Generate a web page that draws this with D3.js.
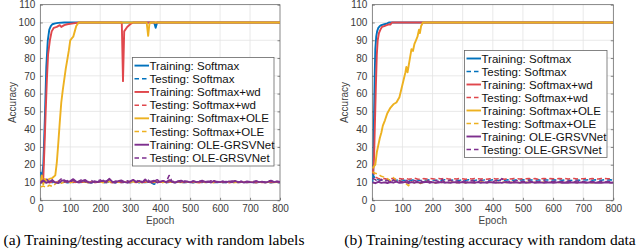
<!DOCTYPE html>
<html>
<head>
<meta charset="utf-8">
<script src="https://cdn.jsdelivr.net/npm/d3@7"></script>
<style>
  html, body { margin: 0; padding: 0; background: #fff; }
  svg { display: block; }
</style>
</head>
<body>
<svg id="fig" width="640" height="249"></svg>
<script>
// ─── Data ───
const xTicks = [0, 100, 200, 300, 400, 500, 600, 700, 800];
const yTicks = [0, 10, 20, 30, 40, 50, 60, 70, 80, 90, 100, 110];

const seriesNames = [
  "Training: Softmax", "Testing: Softmax",
  "Training: Softmax+wd", "Testing: Softmax+wd",
  "Training: Softmax+OLE", "Testing: Softmax+OLE",
  "Training: OLE-GRSVNet", "Testing: OLE-GRSVNet",
];
const seriesColors = ["#0072BD", "#0072BD", "#E0474C", "#E0474C", "#EDB120", "#EDB120", "#7E2F8E", "#7E2F8E"];
const seriesDashed = [false, true, false, true, false, true, false, true];

// noisy curves are sampled every 10 epochs (0..800)
const noiseEpochs = d3.range(0, 801, 10);

// (a) random labels
const aTrainSoftmaxEp = [0, 5, 10, 15, 20, 25, 30, 35, 40, 50, 60, 80, 100, 380, 385, 390, 800];
const aTrainSoftmax   = [16, 12, 20, 45, 75, 90, 96, 98, 99, 99.5, 99.8, 100, 100, 100, 97, 100, 100];
const aTrainWdEp = [0, 10, 14, 18, 22, 26, 32, 38, 45, 55, 65, 70, 80, 90, 110, 130, 272, 276, 280, 290, 300, 310, 800];
const aTrainWd   = [10, 12, 30, 50, 68, 82, 90, 95, 97, 97.5, 98.5, 97.5, 98.5, 99, 99.5, 100, 100, 67, 95, 97.5, 99, 100, 100];
const aTrainOLEEp = [0, 5, 10, 15, 20, 30, 40, 50, 55, 60, 65, 70, 75, 80, 85, 90, 95, 100, 105, 110, 115, 120, 128, 355, 360, 364, 368, 800];
const aTrainOLE   = [10, 14, 9, 12, 11, 12, 12.5, 14, 21, 32, 44, 55, 62, 68, 74, 79, 84, 90, 91, 92, 95, 98, 100, 100, 92.5, 99, 100, 100];

const aTestSoftmax = [
  16, 10.5, 9.8, 10.2, 10.0, 10.4, 9.9, 10.1, 10.3, 9.8,
  10.2, 10.0, 10.3, 9.9, 10.1, 10.4, 10.0, 9.8, 10.2, 10.1,
  10.3, 9.9, 10.0, 10.2, 10.1, 9.8, 10.3, 10.0, 10.1, 9.9,
  10.2, 10.0, 10.4, 9.9, 10.1, 10.0, 10.2, 9.8, 9.0, 10.1,
  10.3, 10.0, 9.9, 10.2, 10.1, 10.0, 10.3, 9.9, 10.1, 10.0,
  10.2, 9.9, 10.1, 10.3, 10.0, 9.9, 10.2, 10.1, 10.0, 10.2,
  9.9, 10.1, 10.0, 10.3, 10.1, 9.9, 10.0, 10.2, 10.1, 10.0,
  10.2, 9.9, 10.1, 10.0, 10.3, 10.1, 10.0, 9.9, 10.2, 10.1,
  10.0,
];
const aTestWd = [
  11, 10.2, 10.6, 9.9, 10.3, 10.1, 10.5, 9.8, 10.2, 10.4,
  10.0, 10.3, 9.9, 10.5, 10.1, 10.2, 10.0, 10.4, 9.9, 10.2,
  10.1, 10.5, 10.0, 10.3, 9.9, 10.2, 10.4, 10.0, 10.1, 10.3,
  9.9, 10.2, 10.0, 10.4, 10.1, 10.3, 9.9, 10.2, 10.0, 10.3,
  10.1, 10.2, 10.0, 10.4, 9.9, 10.2, 10.1, 10.3, 10.0, 10.2,
  10.1, 10.0, 10.3, 9.9, 10.2, 10.1, 10.4, 10.0, 10.2, 10.1,
  10.3, 10.0, 10.2, 9.9, 10.1, 10.3, 10.0, 10.2, 10.1, 10.0,
  10.2, 10.1, 9.9, 10.3, 10.0, 10.2, 10.1, 10.0, 10.2, 10.1,
  10.2,
];
const aTestOLE = [
  7.5, 8.0, 7.2, 8.5, 7.8, 9.2, 10.5, 9.6, 10.2, 10.8,
  9.9, 10.4, 10.1, 10.6, 10.0, 10.3, 9.8, 10.5, 10.1, 10.2,
  10.4, 9.9, 10.2, 10.6, 10.0, 10.3, 10.1, 9.9, 10.4, 10.2,
  10.0, 10.5, 10.1, 10.3, 9.9, 10.2, 10.4, 10.0, 10.1, 10.3,
  10.2, 10.0, 10.4, 10.1, 10.3, 9.9, 10.2, 10.0, 10.3, 10.1,
  10.2, 10.4, 10.0, 10.1, 10.3, 10.0, 10.2, 10.1, 9.9, 10.2,
  10.3, 10.0, 10.2, 10.4, 10.1, 10.0, 10.2, 10.1, 10.3, 10.0,
  10.1, 10.2, 10.0, 10.3, 10.1, 10.0, 10.2, 10.1, 10.0, 10.2,
  10.1,
];
const aTrainGRSV = [
  10.0, 11.2, 9.8, 10.6, 11.0, 10.1, 9.7, 10.9, 11.3, 10.2,
  10.8, 11.9, 10.4, 10.0, 10.9, 11.4, 10.2, 9.9, 10.7, 10.3,
  10.6, 11.1, 10.2, 12.1, 10.5, 10.0, 10.8, 11.2, 10.4, 9.9,
  10.6, 11.5, 10.3, 10.9, 10.1, 11.7, 10.2, 10.6, 11.0, 10.0,
  10.5, 10.9, 10.2, 11.3, 10.4, 10.0, 10.7, 11.0, 10.3, 10.6,
  10.1, 10.8, 10.2, 10.5, 11.0, 10.3, 10.6, 10.0, 10.9, 10.4,
  10.2, 10.7, 10.1, 10.6, 10.3, 10.9, 10.2, 10.5, 10.0, 10.6,
  10.3, 10.1, 10.7, 10.2, 10.5, 10.0, 10.4, 10.8, 10.2, 10.6,
  10.3,
];
const aTestGRSV = [
  9.5, 10.8, 12.3, 10.1, 11.6, 9.8, 10.7, 12.0, 10.3, 11.1,
  10.2, 11.4, 10.0, 10.9, 11.8, 10.3, 10.6, 11.2, 10.1, 10.8,
  11.5, 10.2, 10.9, 11.6, 10.1, 10.7, 11.3, 10.4, 10.0, 11.0,
  10.5, 11.2, 10.3, 11.5, 10.2, 10.9, 11.4, 10.1, 10.7, 11.6,
  10.3, 10.9, 10.2, 14.0, 10.4, 11.0, 10.6, 10.2, 11.1, 10.5,
  10.1, 10.8, 10.4, 10.9, 10.2, 10.7, 10.3, 11.0, 10.5, 10.1,
  10.8, 10.3, 10.6, 10.2, 10.9, 10.4, 10.1, 10.7, 10.3, 10.5,
  10.2, 10.6, 10.9, 10.3, 10.5, 10.1, 10.7, 11.2, 10.4, 10.6,
  10.5,
];

// (b) random data
const bTrainSoftmaxEp = [0, 3, 5, 8, 10, 13, 16, 20, 25, 30, 40, 50, 55, 800];
const bTrainSoftmax   = [10, 14, 40, 70, 85, 92, 95, 97, 98, 98.5, 99, 99.5, 100, 100];
const bTrainWdEp = [0, 3, 6, 9, 12, 15, 18, 22, 27, 32, 40, 48, 55, 60, 65, 800];
const bTrainWd   = [15, 16, 25, 45, 65, 82, 90, 94, 96, 97.5, 98, 98.5, 99, 98.8, 100, 100];
const bTrainOLEEp = [0, 5, 10, 15, 20, 25, 30, 35, 42, 50, 60, 70, 80, 90, 100, 110, 113, 117, 125, 130, 135, 140, 145, 150, 155, 158, 162, 168, 800];
const bTrainOLE   = [18, 19, 20, 27, 31, 35, 38, 42, 45, 49, 52, 54, 55, 58, 65, 72, 75, 72, 80, 85, 84, 88, 90, 92, 96, 94, 98, 100, 100];

const bTestSoftmax = [
  15, 12.0, 11.6, 11.3, 11.5, 11.2, 11.6, 11.4, 11.3, 11.6,
  11.4, 11.2, 11.5, 11.3, 11.6, 11.4, 11.2, 11.5, 11.3, 11.6,
  11.4, 11.3, 11.5, 11.2, 11.6, 11.4, 11.3, 11.5, 11.4, 11.2,
  11.5, 11.3, 11.6, 11.4, 11.2, 11.5, 11.3, 11.4, 11.6, 11.3,
  11.5, 11.4, 11.2, 11.6, 11.3, 11.5, 11.4, 11.3, 11.5, 11.4,
  11.6, 11.3, 11.5, 11.4, 11.2, 11.5, 11.3, 11.6, 11.4, 11.3,
  11.5, 11.4, 11.6, 11.3, 11.5, 11.4, 11.2, 11.5, 11.4, 11.3,
  11.5, 11.4, 11.6, 11.3, 11.5, 11.4, 11.3, 11.5, 11.4, 11.5,
  11.4,
];
const bTestWd = [
  17, 13.0, 12.3, 12.0, 12.2, 11.9, 12.3, 12.1, 11.8, 12.2,
  12.0, 12.3, 11.9, 12.1, 12.4, 12.0, 11.8, 12.2, 12.0, 12.3,
  12.1, 11.9, 12.2, 12.0, 12.5, 12.1, 11.9, 12.2, 12.0, 12.3,
  12.1, 11.9, 12.2, 12.0, 12.3, 12.1, 12.0, 12.2, 11.9, 12.1,
  12.3, 12.0, 12.2, 12.1, 11.9, 12.2, 12.0, 12.3, 12.1, 12.0,
  12.2, 12.1, 12.3, 12.0, 12.2, 11.9, 12.1, 12.3, 12.0, 12.2,
  12.1, 12.0, 12.3, 12.1, 12.2, 12.0, 12.1, 12.3, 12.0, 12.2,
  12.1, 12.3, 12.0, 12.2, 12.1, 12.0, 12.2, 12.3, 12.1, 12.2,
  12.1,
];
const bTestOLE = [
  16, 15.2, 14.6, 13.5, 13.0, 12.2, 11.0, 12.8, 10.6, 11.2,
  10.2, 9.6, 8.2, 10.4, 9.8, 10.6, 9.4, 10.2, 10.8, 9.9,
  10.3, 9.7, 10.5, 10.0, 10.4, 9.8, 10.2, 10.6, 9.9, 10.3,
  10.1, 9.8, 10.4, 10.0, 10.2, 9.9, 10.5, 10.1, 9.8, 10.3,
  10.0, 10.2, 9.9, 10.4, 10.1, 9.8, 10.2, 10.0, 10.3, 9.9,
  10.1, 10.3, 10.0, 9.8, 10.2, 10.1, 9.9, 10.3, 10.0, 10.2,
  10.1, 9.9, 10.2, 10.0, 10.3, 10.1, 9.9, 10.2, 10.0, 10.1,
  10.3, 10.0, 10.2, 9.9, 10.1, 10.2, 10.0, 10.1, 10.3, 10.0,
  10.1,
];
const bTrainGRSV = [
  10.2, 9.6, 10.4, 9.8, 10.1, 9.7, 10.3, 9.9, 10.5, 9.8,
  10.0, 10.4, 9.7, 10.2, 9.9, 10.3, 9.8, 10.1, 10.4, 9.9,
  10.2, 9.8, 10.0, 10.3, 9.9, 10.1, 9.8, 10.2, 10.0, 9.9,
  10.3, 9.8, 10.1, 10.0, 9.9, 10.2, 9.8, 10.1, 9.9, 10.2,
  10.0, 9.9, 10.1, 9.8, 10.2, 10.0, 9.9, 10.1, 10.0, 9.8,
  10.1, 9.9, 10.0, 10.2, 9.9, 10.0, 10.1, 9.8, 10.0, 10.1,
  9.9, 10.0, 10.2, 9.9, 10.0, 9.8, 10.1, 10.0, 9.9, 10.1,
  10.0, 9.9, 10.0, 10.1, 9.9, 10.0, 9.8, 10.0, 10.1, 9.9,
  10.0,
];
const bTestGRSV = [
  12.5, 11.6, 10.3, 11.8, 10.5, 11.2, 10.0, 11.5, 10.4, 11.0,
  10.2, 11.3, 10.6, 10.1, 11.2, 10.4, 11.0, 10.2, 11.4, 10.6,
  10.3, 11.1, 10.5, 12.0, 10.2, 10.8, 11.2, 10.4, 10.9, 10.3,
  11.0, 10.5, 10.2, 11.1, 10.6, 10.3, 11.3, 10.5, 10.1, 10.9,
  10.4, 11.2, 10.3, 12.2, 10.6, 10.2, 10.9, 10.5, 11.1, 10.3,
  10.7, 10.2, 11.0, 10.4, 10.8, 10.3, 10.6, 11.0, 10.2, 10.7,
  10.4, 10.9, 10.3, 10.6, 10.2, 10.8, 10.4, 10.5, 10.9, 10.3,
  10.6, 10.2, 10.7, 10.4, 10.5, 10.2, 10.8, 10.3, 10.6, 10.4,
  10.5,
];

const panels = [
  {
    x0: 40.3, x1: 280, caption: "(a) Training/testing accuracy with random labels", capX: 154,
    legend: { x: 132.5, y: 57.5, w: 141.5, h: 108.5 },
    series: [
      [aTrainSoftmaxEp, aTrainSoftmax], [noiseEpochs, aTestSoftmax],
      [aTrainWdEp, aTrainWd], [noiseEpochs, aTestWd],
      [aTrainOLEEp, aTrainOLE], [noiseEpochs, aTestOLE],
      [noiseEpochs, aTrainGRSV], [noiseEpochs, aTestGRSV],
    ],
  },
  {
    x0: 372.3, x1: 613.3, caption: "(b) Training/testing accuracy with random data", capX: 490,
    legend: { x: 464.5, y: 50.5, w: 142.5, h: 107 },
    series: [
      [bTrainSoftmaxEp, bTrainSoftmax], [noiseEpochs, bTestSoftmax],
      [bTrainWdEp, bTrainWd], [noiseEpochs, bTestWd],
      [bTrainOLEEp, bTrainOLE], [noiseEpochs, bTestOLE],
      [noiseEpochs, bTrainGRSV], [noiseEpochs, bTestGRSV],
    ],
  },
];

// ─── Draw ───
const svg = d3.select("#fig");
const FONT = "'Liberation Sans', Arial, Helvetica, sans-serif";
const yTop = 4.7, yBot = 200.3;

panels.forEach((p, pi) => {
  const x = d3.scaleLinear().domain([0, 800]).range([p.x0, p.x1]);
  const y = d3.scaleLinear().domain([0, 110]).range([yBot, yTop]);
  const g = svg.append("g");

  // grid
  g.append("g").selectAll("line").data(xTicks.slice(1, -1)).join("line")
    .attr("x1", (d) => x(d)).attr("x2", (d) => x(d))
    .attr("y1", yTop).attr("y2", yBot)
    .attr("stroke", "#e3e3e3").attr("stroke-width", 0.8);
  g.append("g").selectAll("line").data(yTicks.slice(1, -1)).join("line")
    .attr("x1", p.x0).attr("x2", p.x1)
    .attr("y1", (d) => y(d)).attr("y2", (d) => y(d))
    .attr("stroke", "#e3e3e3").attr("stroke-width", 0.8);

  // box
  g.append("rect")
    .attr("x", p.x0).attr("y", yTop)
    .attr("width", p.x1 - p.x0).attr("height", yBot - yTop)
    .attr("fill", "none").attr("stroke", "#555").attr("stroke-width", 0.7);

  // axes (ticks inward, labels outside)
  const xAx = g.append("g").attr("transform", `translate(0,${yBot})`)
    .call(d3.axisBottom(x).tickValues(xTicks).tickSize(-2.5).tickPadding(5));
  const yAx = g.append("g").attr("transform", `translate(${p.x0},0)`)
    .call(d3.axisLeft(y).tickValues(yTicks).tickSize(-2.5).tickPadding(5));
  g.append("g").attr("transform", `translate(${p.x1},0)`)
    .call(d3.axisRight(y).tickValues(yTicks).tickSize(-2.5).tickFormat(""));
  [xAx, yAx].forEach((ax) => {
    ax.selectAll("text").style("font-family", FONT).style("font-size", "10px").attr("fill", "#3a3a3a");
  });
  g.selectAll(".domain").remove();
  g.selectAll(".tick line").attr("stroke", "#555").attr("stroke-width", 0.7);

  // axis titles
  g.append("text")
    .attr("x", (p.x0 + p.x1) / 2).attr("y", 224)
    .attr("text-anchor", "middle")
    .style("font-family", FONT).style("font-size", "10px").attr("fill", "#444")
    .text("Epoch");
  g.append("text")
    .attr("transform", `translate(${p.x0 - 24},${(yTop + yBot) / 2}) rotate(-90)`)
    .attr("text-anchor", "middle")
    .style("font-family", FONT).style("font-size", "10px").attr("fill", "#444")
    .text("Accuracy");

  // lines
  const clipId = `clip${pi}`;
  svg.append("clipPath").attr("id", clipId).append("rect")
    .attr("x", p.x0).attr("y", yTop).attr("width", p.x1 - p.x0).attr("height", yBot - yTop);
  const line = d3.line().x((d) => x(d[0])).y((d) => y(d[1]));
  const gl = g.append("g").attr("clip-path", `url(#${clipId})`);
  p.series.forEach(([ep, vals], i) => {
    gl.append("path")
      .datum(ep.map((e, k) => [e, vals[k]]))
      .attr("d", line)
      .attr("fill", "none")
      .attr("stroke", seriesColors[i])
      .attr("stroke-width", seriesDashed[i] ? 1.5 : 1.9)
      .attr("stroke-dasharray", seriesDashed[i] ? "5,3" : null)
      .attr("stroke-linejoin", "round");
  });

  // legend
  const L = p.legend;
  const lg = g.append("g");
  lg.append("rect")
    .attr("x", L.x).attr("y", L.y).attr("width", L.w).attr("height", L.h)
    .attr("fill", "#fff").attr("stroke", "#666").attr("stroke-width", 0.8);
  const rowH = (L.h - 3) / seriesNames.length;
  seriesNames.forEach((name, i) => {
    const cy = L.y + 1.5 + rowH * (i + 0.5);
    lg.append("line")
      .attr("x1", L.x + 2).attr("x2", L.x + 16.5)
      .attr("y1", cy).attr("y2", cy)
      .attr("stroke", seriesColors[i])
      .attr("stroke-width", seriesDashed[i] ? 1.5 : 1.9)
      .attr("stroke-dasharray", seriesDashed[i] ? "4.5,3" : null);
    lg.append("text")
      .attr("x", L.x + 17).attr("y", cy).attr("dy", "0.36em")
      .style("font-family", FONT).style("font-size", "11.5px").attr("fill", "#111")
      .text(name);
  });

  // caption (kept just inside the bottom edge)
  svg.append("text")
    .attr("x", p.capX).attr("y", 244.5)
    .attr("text-anchor", "middle")
    .style("font-family", "'Liberation Serif', 'Times New Roman', serif")
    .style("font-size", "15.5px").attr("fill", "#000")
    .text(p.caption);
});
</script>
</body>
</html>
